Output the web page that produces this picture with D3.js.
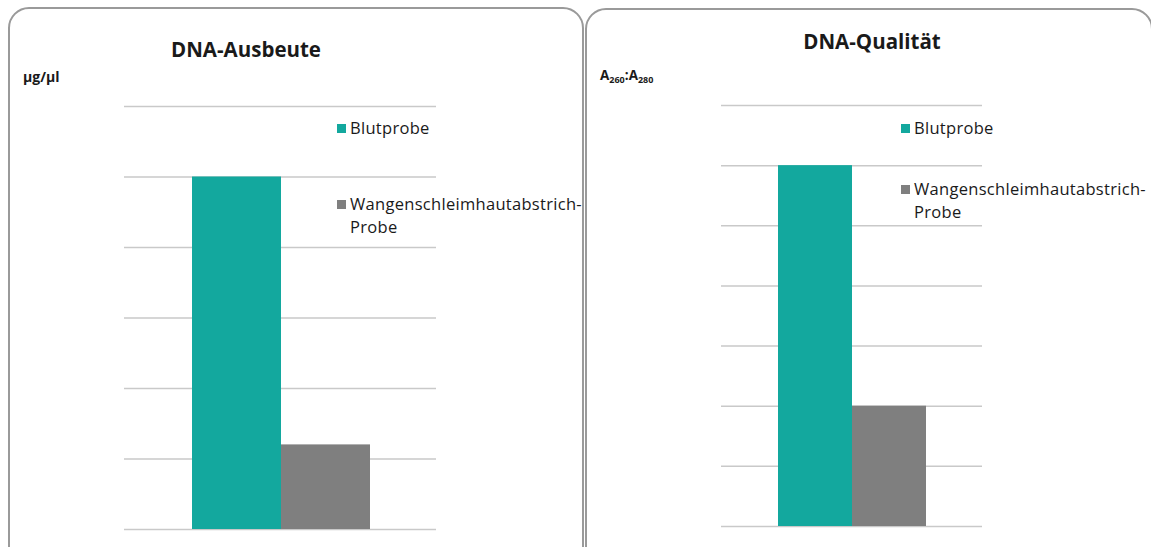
<!DOCTYPE html>
<html lang="de">
  <head>
    <meta charset="UTF-8" />
    <title>DNA-Ausbeute und DNA-Qualität</title>
    <style>
      body { margin: 0; background: #fff; }
      text { font-family: "Open Sans", "Liberation Sans", sans-serif; fill: #1a1a1a; }
    </style>
  </head>
  <body>
    <svg id="svg" width="1151" height="547"></svg>

    <script src="https://d3js.org/d3.v7.min.js"></script>
    <script>
      const categories = ["Blutprobe", "Wangenschleimhautabstrich-Probe"];
      const legendLines = [["Blutprobe"], ["Wangenschleimhautabstrich-", "Probe"]];
      const colors = ["#13a89e", "#7f7f7f"];

      // Ausbeute in µg/µl (Gitter ohne Beschriftung, 1 Einheit pro Linie)
      const yieldValues = [5, 1.2];
      const yieldMax = 6;
      // Qualität A260:A280
      const qualityValues = [6, 2];
      const qualityMax = 7;

      const svg = d3.select("#svg");

      // Rahmen der beiden Kacheln
      svg.append("rect")
        .attr("x", 9).attr("y", 8).attr("width", 574).attr("height", 560)
        .attr("rx", 20).attr("fill", "none")
        .attr("stroke", "#9a9a9a").attr("stroke-width", 2);
      svg.append("rect")
        .attr("x", 586).attr("y", 9).attr("width", 566).attr("height", 560)
        .attr("rx", 20).attr("fill", "none")
        .attr("stroke", "#9a9a9a").attr("stroke-width", 2);

      function drawChart(cfg) {
        const g = svg.append("g");
        const y = d3.scaleLinear().domain([0, cfg.max]).range([cfg.bottom, cfg.top]);
        const x = d3.scaleBand().domain(categories).range([cfg.barLeft, cfg.barRight]).padding(0);

        // Gitterlinien
        g.append("g")
          .attr("transform", `translate(${cfg.left},0)`)
          .call(d3.axisLeft(y).ticks(cfg.max).tickSize(-(cfg.right - cfg.left)).tickFormat(""))
          .call((a) => a.select(".domain").remove())
          .call((a) => a.selectAll(".tick line").attr("stroke", "#c9c9c9").attr("stroke-width", 1.5));

        g.selectAll(".bar")
          .data(cfg.values)
          .enter()
          .append("rect")
          .attr("x", (d, i) => x(categories[i]))
          .attr("y", (d) => y(d))
          .attr("width", x.bandwidth())
          .attr("height", (d) => cfg.bottom - y(d))
          .attr("fill", (d, i) => colors[i]);

        g.append("text")
          .attr("x", cfg.titleX).attr("y", cfg.titleY)
          .attr("text-anchor", "middle")
          .attr("font-size", 20.5).attr("font-weight", "bold")
          .text(cfg.title);

        // Legende
        cfg.legendY.forEach((ly, i) => {
          g.append("rect")
            .attr("x", cfg.legendX).attr("y", ly - 10)
            .attr("width", 9).attr("height", 9)
            .attr("fill", colors[i]);
          const t = g.append("text")
            .attr("x", cfg.legendX + 13).attr("y", ly)
            .attr("font-size", 16.5).attr("letter-spacing", 0.3);
          legendLines[i].forEach((line, j) => {
            t.append("tspan").attr("x", cfg.legendX + 13).attr("dy", j === 0 ? 0 : 23).text(line);
          });
        });
        return g;
      }

      const g1 = drawChart({
        values: yieldValues, max: yieldMax,
        left: 124, right: 436, top: 106, bottom: 529,
        barLeft: 192, barRight: 370,
        title: "DNA-Ausbeute", titleX: 246, titleY: 57,
        legendX: 337, legendY: [134, 210]
      });
      g1.append("text")
        .attr("x", 23).attr("y", 82)
        .attr("font-size", 14).attr("font-weight", "bold")
        .text("µg/µl");

      const g2 = drawChart({
        values: qualityValues, max: qualityMax,
        left: 721, right: 982, top: 105, bottom: 526,
        barLeft: 778, barRight: 926,
        title: "DNA-Qualität", titleX: 872, titleY: 49,
        legendX: 901, legendY: [134, 195]
      });
      const yl = g2.append("text")
        .attr("x", 600).attr("y", 80)
        .attr("font-size", 13.5).attr("font-weight", "bold");
      yl.append("tspan").text("A");
      yl.append("tspan").attr("font-size", 9).attr("dy", 3).text("260");
      yl.append("tspan").attr("dy", -3).text(":A");
      yl.append("tspan").attr("font-size", 9).attr("dy", 3).text("280");
    </script>
  </body>
</html>
